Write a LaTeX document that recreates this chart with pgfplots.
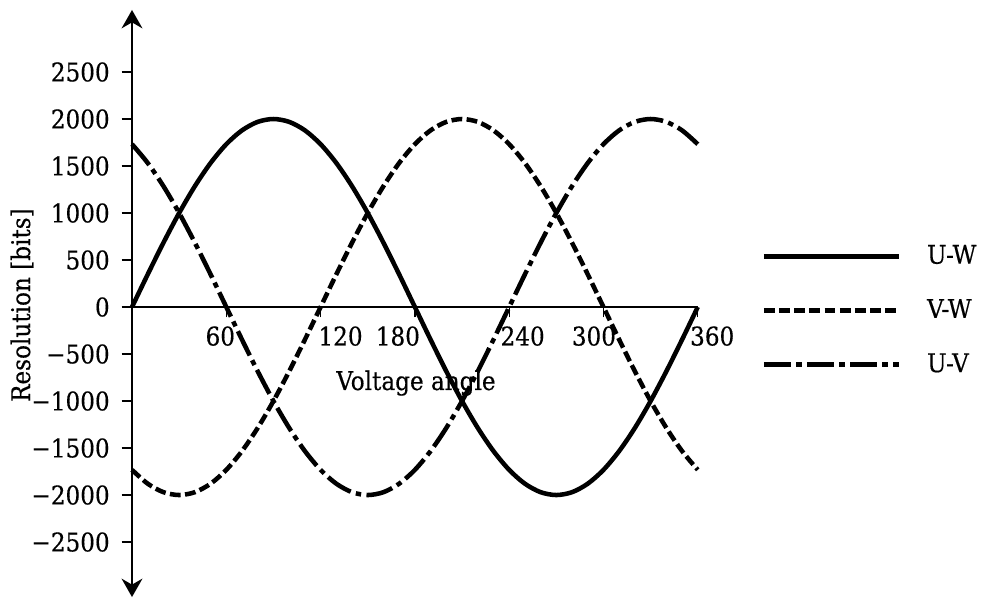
\documentclass[border=0pt]{standalone}
\usepackage{pgfplots}
\pgfplotsset{compat=1.18}
\usepackage{pgfplotstable}
\usetikzlibrary{arrows.meta}
\usepackage{fontspec}
\setmainfont{DejaVu Serif Condensed}[Scale=1.05, FakeBold=0.4]

\pgfplotstableread{
x    uw      vw      uv
0    0       -1732.1 1732.1
10   347.3   -1879.4 1532.1
20   684.0   -1969.6 1285.6
30   1000    -2000   1000
40   1285.6  -1969.6 684.0
50   1532.1  -1879.4 347.3
60   1732.1  -1732.1 0
70   1879.4  -1532.1 -347.3
80   1969.6  -1285.6 -684.0
90   2000    -1000   -1000
100  1969.6  -684.0  -1285.6
110  1879.4  -347.3  -1532.1
120  1732.1  0       -1732.1
130  1532.1  347.3   -1879.4
140  1285.6  684.0   -1969.6
150  1000    1000    -2000
160  684.0   1285.6  -1969.6
170  347.3   1532.1  -1879.4
180  0       1732.1  -1732.1
190  -347.3  1879.4  -1532.1
200  -684.0  1969.6  -1285.6
210  -1000   2000    -1000
220  -1285.6 1969.6  -684.0
230  -1532.1 1879.4  -347.3
240  -1732.1 1732.1  0
250  -1879.4 1532.1  347.3
260  -1969.6 1285.6  684.0
270  -2000   1000    1000
280  -1969.6 684.0   1285.6
290  -1879.4 347.3   1532.1
300  -1732.1 0       1732.1
310  -1532.1 -347.3  1879.4
320  -1285.6 -684.0  1969.6
330  -1000   -1000   2000
340  -684.0  -1285.6 1969.6
350  -347.3  -1532.1 1879.4
360  0       -1732.1 1732.1
}\datatable

\begin{document}
\begin{tikzpicture}
\begin{axis}[
  scale only axis,
  width=230.9pt, height=239.6pt,
  xmin=0, xmax=360, ymin=-3085, ymax=3160,
  axis x line=middle, axis y line=middle,
  axis line style={line width=0.8pt},
  x axis line style={-},
  y axis line style={{Stealth[length=7.5pt,width=8.5pt]}-{Stealth[length=7.5pt,width=8.5pt]}},
  hide obscured x ticks=false, hide obscured y ticks=false,
  tick align=outside,
  major tick length=4.2pt,
  tick style={line width=0.5pt, black},
  xtick={60,120,180,240,300,360},
  xticklabels={{\kern-4.9pt 60},{\kern16.3pt 120},{\kern-13.9pt 180},{\kern11pt 240},{\kern-7.8pt 300},{\kern11.8pt 360}},
  ytick={-2500,-2000,-1500,-1000,-500,0,500,1000,1500,2000,2500},
  yticklabels={−2500,−2000,−1500,−1000,−500,0,500,1000,1500,2000,2500},
  yticklabel style={xshift=-1.2pt},
  every axis x label/.style={at={(axis cs:180.7,-809)}, anchor=center},
  every axis y label/.style={at={(axis cs:-70,20)}, rotate=90, anchor=center},
  xlabel={Voltage angle},
  ylabel={Resolution [bits]},
  clip=false,
  legend cell align=left,
  legend style={draw=none, fill=none, at={(axis cs:395.6,770)}, anchor=north west,
    row sep=8.9pt, /tikz/every odd column/.append style={column sep=8.7pt}},
  legend image code/.code={\draw[#1] (0pt,0pt) -- (55pt,0pt);},
]
\addplot[black, line width=1.85pt, smooth] table[x=x, y=uw] {\datatable};
\addlegendentry{U-W}
\addplot[black, line width=1.85pt, smooth, dash pattern=on 4.4pt off 1.8pt] table[x=x, y=vw] {\datatable};
\addlegendentry{V-W}
\addplot[black, line width=1.85pt, smooth, dash pattern=on 11pt off 2.2pt on 2.2pt off 2.2pt] table[x=x, y=uv] {\datatable};
\addlegendentry{U-V}
\coordinate (BBsw) at (axis cs:-84,-3106);
\coordinate (BBne) at (axis cs:541.5,3266);
\end{axis}
\pgfresetboundingbox
\useasboundingbox (BBsw) rectangle (BBne);
\end{tikzpicture}
\end{document}
